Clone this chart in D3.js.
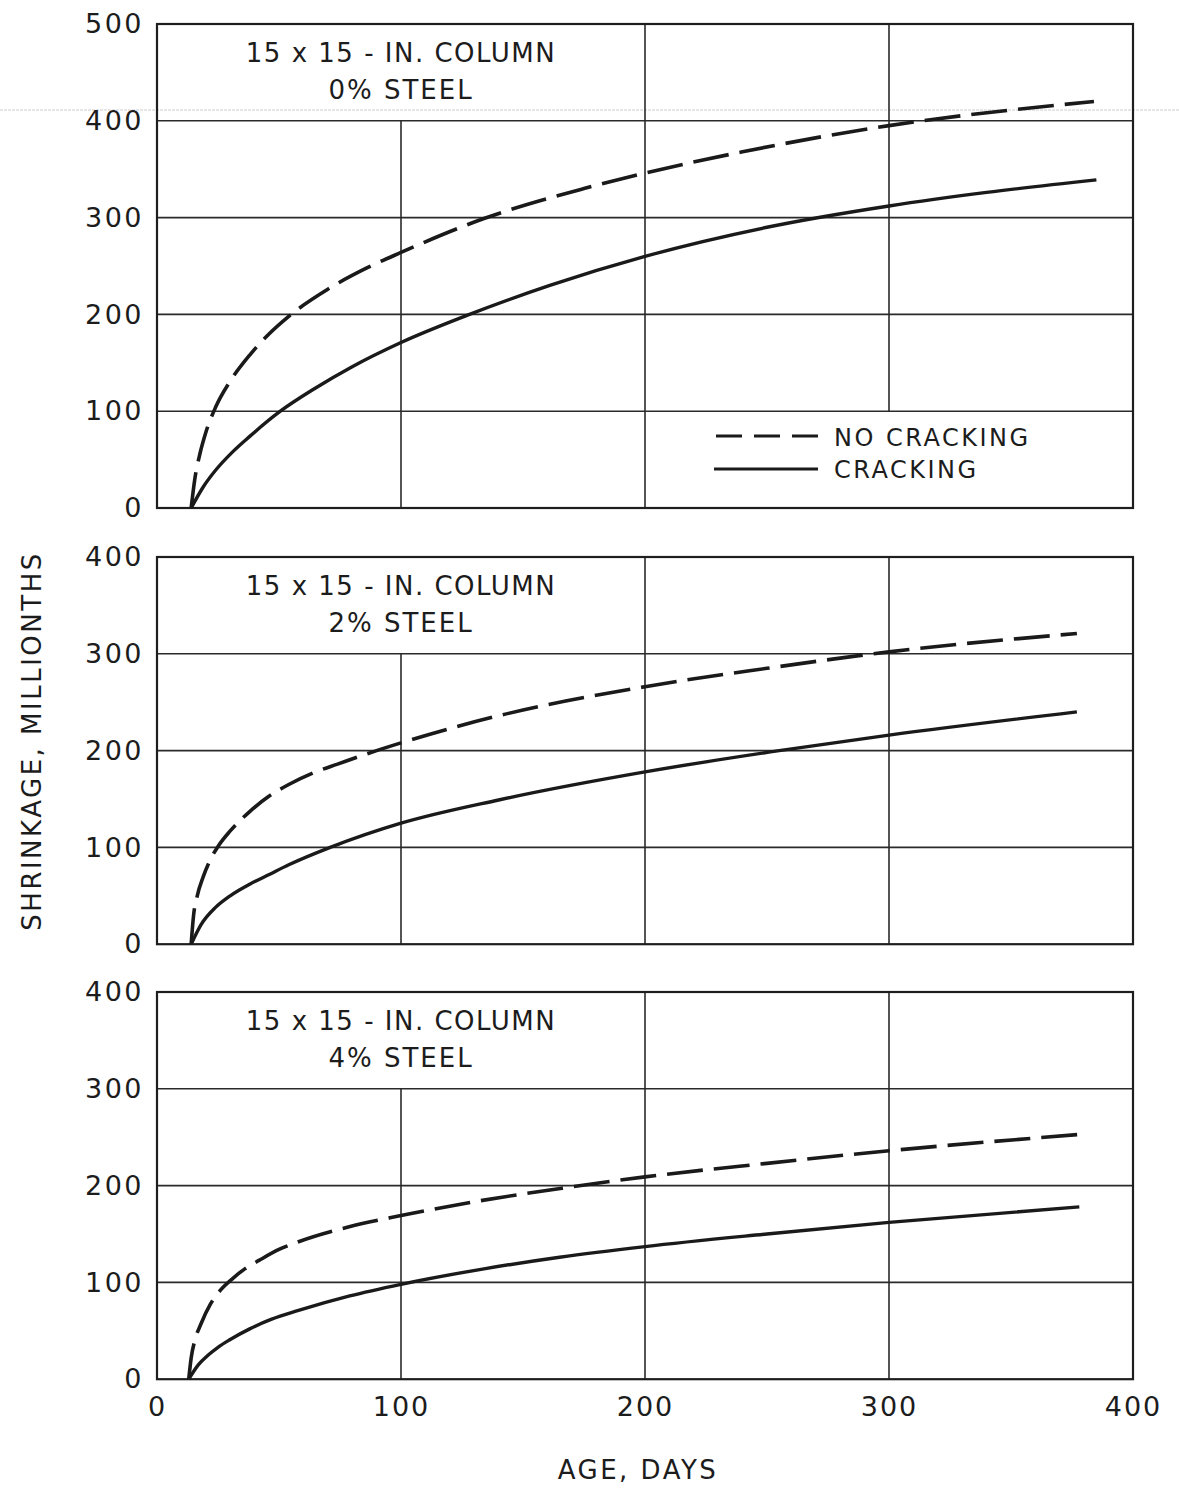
<!DOCTYPE html>
<html>
<head>
<meta charset="utf-8">
<script src="https://cdn.jsdelivr.net/npm/d3@7/dist/d3.min.js"></script>
<style>
body { margin: 0; background: #fff; }
text { font-family: "DejaVu Sans", sans-serif; fill: #1c1c1c; }
</style>
</head>
<body>
<div id="chart"></div>
<script>
// values (age in days, shrinkage in millionths)
var ageTicks = [0, 100, 200, 300, 400];
var panelTitle = "15 x 15 - IN. COLUMN";
var steelLabels = ["0% STEEL", "2% STEEL", "4% STEEL"];
var panelMax = [500, 400, 400];

var noCrack0 = [[14,0],[15.5,30],[17.5,55],[20,78],[24,104],[30,131],[38,158],[46,180],[54,198],[70,226],[86,248],[100,264],[134,299],[175,330],[200,346],[240,368],[300,395],[384,420]];
var crack0 = [[14,0],[19,22],[24,39],[31,58],[38,74],[50,99],[65,124],[80,146],[100,171],[127,199],[161,230],[200,260],[250,290],[300,312],[340,326],[385,339]];

var noCrack2 = [[14,0],[15,30],[16.5,50],[19,70],[22,88],[25,101],[30,117],[38,137],[46,153],[54,165],[64,177],[74,186],[90,200],[100,208],[140,236],[200,266],[250,285],[300,302],[377,321]];
var crack2 = [[14,0],[18,20],[24,38],[30,50],[38,62],[46,72],[54,82],[71,100],[100,125],[140,149],[200,178],[255,200],[300,216],[377,240]];

var noCrack4 = [[13,0],[14,22],[15.5,40],[18,57],[22,78],[26,92],[31,104],[36,114],[42,123],[50,134],[58,142],[78,157],[100,169],[134,185],[168,198],[200,209],[250,223],[300,236],[379,253]];
var crack4 = [[13,0],[17,15],[21,25],[25,33],[30,41],[38,52],[47,62],[58,71],[79,86],[100,98],[134,114],[165,126],[200,137],[250,150],[300,162],[378,178]];

var noCrackSeries = [noCrack0, noCrack2, noCrack4];
var crackSeries = [crack0, crack2, crack4];
var legendLabels = ["NO CRACKING", "CRACKING"];

var W = 1179, H = 1488;
var panelTops = [24, 557, 992];
var pxPerUnit = 0.968;

var svg = d3.select("#chart").append("svg")
    .attr("width", W)
    .attr("height", H);

var x = d3.scaleLinear().domain([0, 400]).range([157, 1133]);

// faint scan line across the sheet
svg.append("line")
    .attr("x1", 0).attr("x2", W)
    .attr("y1", 110).attr("y2", 110)
    .attr("stroke", "#cccccc")
    .attr("stroke-width", 1)
    .attr("stroke-dasharray", "3,1");

function drawPanel(p) {
    var py = panelTops[p];
    var pmax = panelMax[p];
    var y = d3.scaleLinear().domain([0, pmax]).range([py + pmax * pxPerUnit, py]);
    var g = svg.append("g");
    var lineGen = d3.line()
        .x(function(d) { return x(d[0]); })
        .y(function(d) { return y(d[1]); })
        .curve(d3.curveMonotoneX);

    // horizontal grid
    g.selectAll(".hgrid")
        .data(d3.range(100, pmax, 100))
        .enter().append("line")
        .attr("x1", x(0)).attr("x2", x(400))
        .attr("y1", function(d) { return y(d); })
        .attr("y2", function(d) { return y(d); })
        .attr("stroke", "#2a2a2a")
        .attr("stroke-width", 1.6);

    // vertical grid: the 100-day line leaves room for the title,
    // the 300-day line in the first panel leaves room for the legend
    var vlines = [
        {d: 100, y0: pmax - 100, y1: 0},
        {d: 200, y0: pmax, y1: 0},
        {d: 300, y0: pmax, y1: p == 0 ? 100 : 0}
    ];
    g.selectAll(".vgrid")
        .data(vlines)
        .enter().append("line")
        .attr("x1", function(d) { return x(d.d); })
        .attr("x2", function(d) { return x(d.d); })
        .attr("y1", function(d) { return y(d.y0); })
        .attr("y2", function(d) { return y(d.y1); })
        .attr("stroke", "#2a2a2a")
        .attr("stroke-width", 1.6);

    // frame
    g.append("rect")
        .attr("x", x(0)).attr("y", y(pmax))
        .attr("width", x(400) - x(0))
        .attr("height", y(0) - y(pmax))
        .attr("fill", "none")
        .attr("stroke", "#1e1e1e")
        .attr("stroke-width", 2.2);

    // y axis labels
    var ax = g.append("g")
        .attr("transform", "translate(" + x(0) + ",0)")
        .call(d3.axisLeft(y).tickValues(d3.range(0, pmax + 1, 100)).tickSize(0).tickPadding(13));
    ax.select(".domain").remove();
    ax.selectAll("text")
        .attr("font-family", "DejaVu Sans")
        .attr("font-size", 27)
        .attr("letter-spacing", 2.5)
        .attr("fill", "#1c1c1c");

    // curves
    g.append("path")
        .datum(noCrackSeries[p])
        .attr("d", lineGen)
        .attr("fill", "none")
        .attr("stroke", "#1a1a1a")
        .attr("stroke-width", 3.6)
        .attr("stroke-dasharray", "36,11");
    g.append("path")
        .datum(crackSeries[p])
        .attr("d", lineGen)
        .attr("fill", "none")
        .attr("stroke", "#1a1a1a")
        .attr("stroke-width", 3.4);

    // title
    g.append("text")
        .attr("x", x(100)).attr("y", py + 29)
        .attr("text-anchor", "middle")
        .attr("dominant-baseline", "central")
        .attr("font-size", 26)
        .attr("letter-spacing", 1.5)
        .text(panelTitle);
    g.append("text")
        .attr("x", x(100)).attr("y", py + 66)
        .attr("text-anchor", "middle")
        .attr("dominant-baseline", "central")
        .attr("font-size", 26)
        .attr("letter-spacing", 2)
        .text(steelLabels[p]);

    if (p == 0) {
        // legend
        g.append("line")
            .attr("x1", 716).attr("x2", 818)
            .attr("y1", 436).attr("y2", 436)
            .attr("stroke", "#1a1a1a")
            .attr("stroke-width", 3.2)
            .attr("stroke-dasharray", "26,12");
        g.append("line")
            .attr("x1", 714).attr("x2", 818)
            .attr("y1", 469).attr("y2", 469)
            .attr("stroke", "#1a1a1a")
            .attr("stroke-width", 3.2);
        g.selectAll(".leg")
            .data(legendLabels)
            .enter().append("text")
            .attr("x", 834)
            .attr("y", function(d, i) { return 438 + i * 32; })
            .attr("dominant-baseline", "central")
            .attr("font-size", 24)
            .attr("letter-spacing", 2.5)
            .text(function(d) { return d; });
    }

    if (p == 2) {
        var xa = g.append("g")
            .attr("transform", "translate(0," + y(0) + ")")
            .call(d3.axisBottom(x).tickValues(ageTicks).tickSize(0).tickPadding(18));
        xa.select(".domain").remove();
        xa.selectAll("text")
            .attr("font-family", "DejaVu Sans")
            .attr("font-size", 27)
            .attr("letter-spacing", 2)
            .attr("fill", "#1c1c1c");
    }
}

for (var p = 0; p < 3; p++) {
    drawPanel(p);
}

// axis titles
svg.append("text")
    .attr("transform", "translate(32,741) rotate(-90)")
    .attr("text-anchor", "middle")
    .attr("dominant-baseline", "central")
    .attr("font-size", 26)
    .attr("letter-spacing", 2.5)
    .text("SHRINKAGE, MILLIONTHS");

svg.append("text")
    .attr("x", 638).attr("y", 1470)
    .attr("text-anchor", "middle")
    .attr("dominant-baseline", "central")
    .attr("font-size", 26)
    .attr("letter-spacing", 2.5)
    .text("AGE, DAYS");
</script>
</body>
</html>
